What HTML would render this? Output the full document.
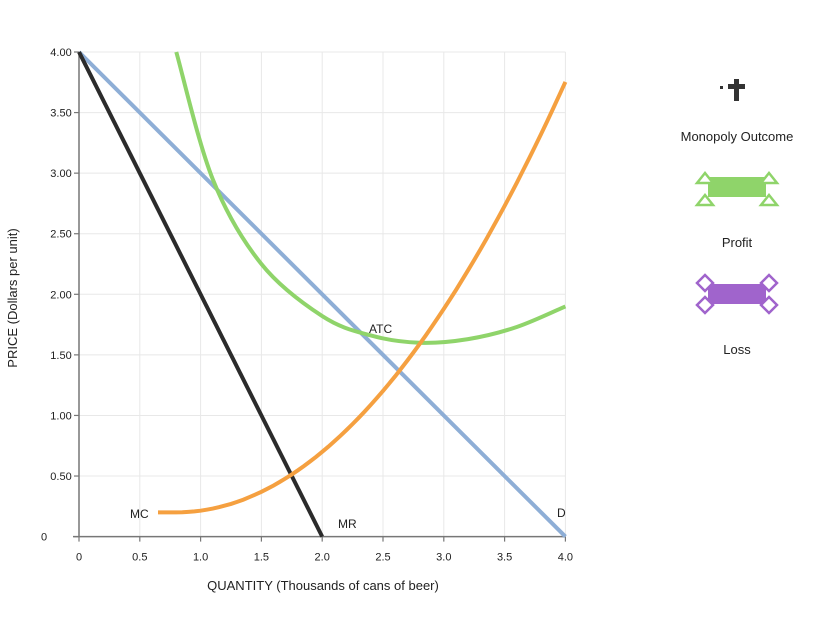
<!DOCTYPE html>
<html><head><meta charset="utf-8"><style>
html,body{margin:0;padding:0;background:#fff;}
svg{display:block;font-family:"Liberation Sans",Arial,sans-serif;}
</style></head><body>
<svg id="s" width="822" height="626" viewBox="0 0 822 626" xmlns="http://www.w3.org/2000/svg">
<g id="grid" stroke="#e8e8e8" stroke-width="1"></g>
<g id="axes"></g>
<path id="d" fill="none" stroke="#8eaed6" stroke-width="4"/>
<path id="mr" fill="none" stroke="#2b2b2b" stroke-width="4"/>
<path id="atc" fill="none" stroke="#8fd46a" stroke-width="4"/>
<path id="mc" fill="none" stroke="#f5a040" stroke-width="4"/>
<g font-size="12" fill="#222">
<text x="369" y="333">ATC</text>
<text x="130" y="518">MC</text>
<text x="338" y="528">MR</text>
<text x="557" y="517">D</text>
<text x="323" y="590" font-size="13" text-anchor="middle">QUANTITY (Thousands of cans of beer)</text>
<text transform="translate(17,298) rotate(-90)" font-size="13" text-anchor="middle">PRICE (Dollars per unit)</text>
</g>
<g fill="#333">
<rect x="734" y="79" width="5" height="22"/>
<rect x="728" y="84" width="17" height="5"/>
<rect x="720" y="86" width="3" height="3"/>
</g>
<text x="737" y="141" font-size="13" text-anchor="middle" fill="#222">Monopoly Outcome</text>
<g>
<rect x="708" y="177" width="58" height="20" fill="#8fd46a"/>
<g fill="#fff" stroke="#8fd46a" stroke-width="2.5">
<polygon points="697,183 705,173 713,183"/><polygon points="761,183 769,173 777,183"/>
<polygon points="697,205 705,195 713,205"/><polygon points="761,205 769,195 777,205"/>
</g>
</g>
<text x="737" y="247" font-size="13" text-anchor="middle" fill="#222">Profit</text>
<g>
<rect x="708" y="284" width="58" height="20" fill="#a064cc"/>
<g fill="#fff" stroke="#a064cc" stroke-width="2.5">
<polygon points="705,275 713,283 705,291 697,283"/><polygon points="769,275 777,283 769,291 761,283"/>
<polygon points="705,297 713,305 705,313 697,305"/><polygon points="769,297 777,305 769,313 761,305"/>
</g>
</g>
<text x="737" y="354" font-size="13" text-anchor="middle" fill="#222">Loss</text>
</svg>
<script>
var X0=79,XS=121.6,Y0=536.6,YS=121.15;
function px(q){return X0+q*XS}function py(p){return Y0-p*YS}
var ns="http://www.w3.org/2000/svg";
var g=document.getElementById('grid'),a=document.getElementById('axes');
function el(t,at,par){var e=document.createElementNS(ns,t);for(var k in at)e.setAttribute(k,at[k]);par.appendChild(e);return e;}
for(var i=1;i<=8;i++){var v=i*0.5;
 el('line',{x1:px(v),x2:px(v),y1:py(0),y2:py(4)},g);
 el('line',{x1:px(0),x2:px(4),y1:py(v),y2:py(v)},g);}
el('line',{x1:px(0),x2:px(0),y1:py(0),y2:py(4),stroke:'#777','stroke-width':1.5},a);
el('line',{x1:px(0)-6,x2:px(4),y1:py(0),y2:py(0),stroke:'#777','stroke-width':1.5},a);
var xl=['0','0.5','1.0','1.5','2.0','2.5','3.0','3.5','4.0'];
for(var i=0;i<=8;i++){var v=i*0.5;
 el('line',{x1:px(v),x2:px(v),y1:py(0),y2:py(0)+5,stroke:'#777','stroke-width':1.2},a);
 var t=el('text',{x:px(v),y:py(0)+24,'font-size':11,'text-anchor':'middle',fill:'#222'},a);t.textContent=xl[i];
 el('line',{x1:px(0)-5,x2:px(0),y1:py(v),y2:py(v),stroke:'#777','stroke-width':1.2},a);
 var yl=i==0?'0':v.toFixed(2);
 var t2=el('text',{x:i==0?44:61,y:py(v)+4,'font-size':11,'text-anchor':'middle',fill:'#222'},a);t2.textContent=yl;}
document.getElementById('d').setAttribute('d','M'+px(0)+' '+py(4)+'L'+px(4)+' '+py(0));
document.getElementById('mr').setAttribute('d','M'+px(0)+' '+py(4)+'L'+px(2)+' '+py(0));
var s='';for(var q=0.65;q<=4.0001;q+=0.05){var p=0.2+0.347*Math.pow(Math.max(q-0.8,0),2);s+=(s?'L':'M')+px(q).toFixed(1)+' '+py(p).toFixed(1);}
document.getElementById('mc').setAttribute('d',s);
var P=[[0.8,4.0],[1.1,2.95],[1.5,2.25],[2.0,1.82],[2.4,1.66],[2.8,1.6],[3.2,1.63],[3.6,1.73],[4.0,1.9]];
var pts=P.map(function(v){return[px(v[0]),py(v[1])]});
var d='M'+pts[0][0]+' '+pts[0][1];
for(var i=0;i<pts.length-1;i++){var p0=pts[i-1]||pts[i],p1=pts[i],p2=pts[i+1],p3=pts[i+2]||p2;
 d+='C'+(p1[0]+(p2[0]-p0[0])/6)+' '+(p1[1]+(p2[1]-p0[1])/6)+' '+(p2[0]-(p3[0]-p1[0])/6)+' '+(p2[1]-(p3[1]-p1[1])/6)+' '+p2[0]+' '+p2[1];}
document.getElementById('atc').setAttribute('d',d);
</script>
</body></html>
